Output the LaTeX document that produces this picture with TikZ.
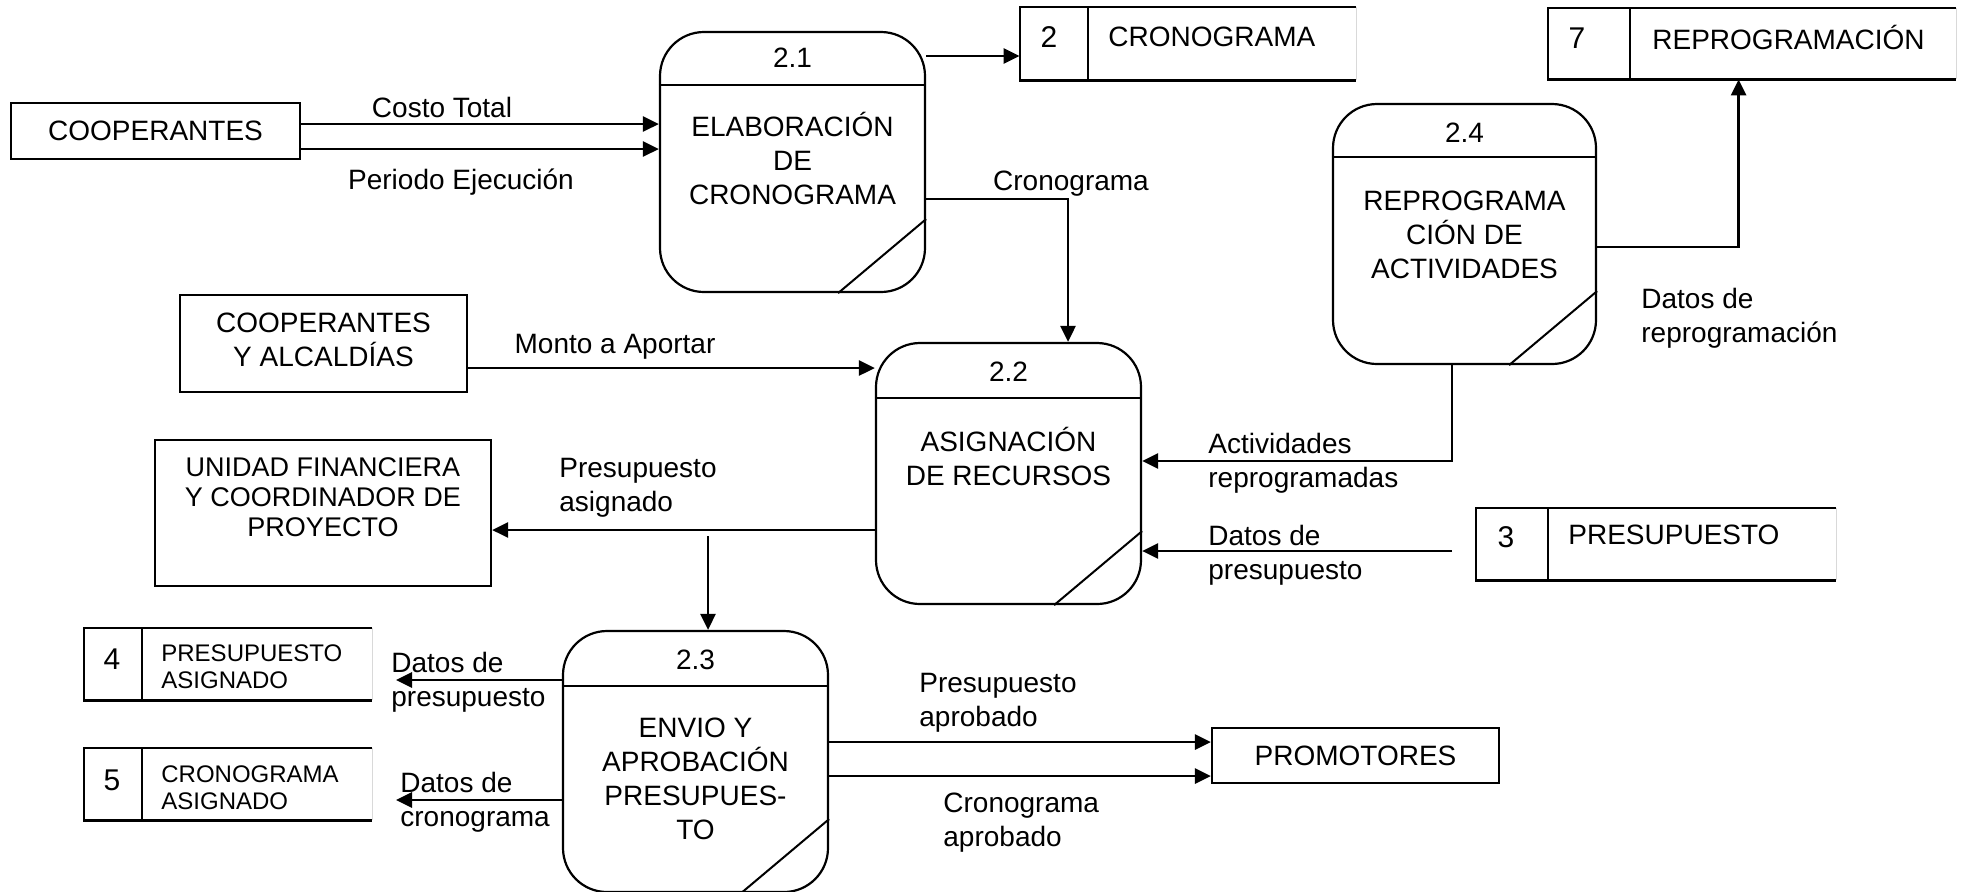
\documentclass[tikz,border=0pt]{standalone}
\usepackage{fontspec}
\setmainfont{Liberation Sans}
\usetikzlibrary{arrows.meta,calc}

% open-ended data store: outline, number compartment divider, faint right edge
\newcommand{\storelines}[2]{%
  \draw[line width=1.1pt] (#1.north east) -- (#1.north west) -- (#1.south west) -- (#1.south east);
  \draw[line width=1.1pt] ($(#1.north west)+(#2,0)$) -- ($(#1.south west)+(#2,0)$);
  \draw[gray!30, line width=0.5pt] (#1.north east) -- (#1.south east);
}
% process bubble: header divider and lower-right corner cut
\newcommand{\proclines}[2]{%
  \draw[line width=1.1pt] ($(#1.north west)+(0,#2)$) -- ($(#1.north east)+(0,#2)$);
  \draw[line width=1pt] ($(#1.south east)+(0,-74)$) -- ($(#1.south east)+(-88,0)$);
}

\begin{document}
\begin{tikzpicture}[x=0.5pt,y=-0.5pt,
  every node/.style={inner sep=0pt, font=\fontsize{14}{17}\selectfont},
  ent/.style={draw, line width=1.1pt},
  proc/.style={draw, line width=1.1pt, rounded corners=22pt, minimum width=132.5pt, minimum height=130pt},
  store/.style={minimum height=36pt},
  arr/.style={line width=1.4pt, -{Triangle[length=8pt,width=7.5pt]}},
  lbl/.style={align=left, anchor=north west},
  ptxt/.style={align=center, anchor=north},
  small/.style={font=\fontsize{12}{13.5}\selectfont},
]
\useasboundingbox (0,0) rectangle (1966,891);

% ---------- external entities ----------
\node[ent, minimum width=144.5pt, minimum height=28pt] (coop) at (155.5,131) {COOPERANTES};
\node[ent, minimum width=143.5pt, minimum height=48.5pt] (coopalc) at (323.5,343.5) {};
\node[align=center] (coopalctxt) at (323.5,340) {COOPERANTES\\Y ALCALDÍAS};
\node[ent, minimum width=168pt, minimum height=73pt] (unidad) at (323,513) {};
\node[align=center, anchor=north, font=\fontsize{13.5}{15}\selectfont] (unidadtxt) at (323,457)
  {UNIDAD FINANCIERA\\Y COORDINADOR DE\\PROYECTO};
\node[ent, minimum width=143.5pt, minimum height=27.5pt] (prom) at (1355.5,755.5) {PROMOTORES};

% ---------- processes ----------
\node[proc] (p21) at (792.5,162) {};
\node (p21num) at (792.5,58) {2.1};
\node[ptxt] (p21txt) at (792.5,112) {ELABORACIÓN\\DE\\CRONOGRAMA};
\proclines{p21}{54}

\node[proc, minimum height=130.5pt] (p22) at (1008.5,473.5) {};
\node (p22num) at (1008.5,372) {2.2};
\node[ptxt] (p22txt) at (1008.5,427) {ASIGNACIÓN\\DE RECURSOS};
\proclines{p22}{56}

\node[proc, minimum height=130.5pt] (p23) at (695.5,761.5) {};
\node (p23num) at (695.5,660) {2.3};
\node[ptxt] (p23txt) at (695.5,718) {ENVIO Y\\APROBACIÓN\\PRESUPUES-\\TO};
\proclines{p23}{56}

\node[proc, minimum width=131.5pt] (p24) at (1464.5,234) {};
\node (p24num) at (1464.5,133) {2.4};
\node[ptxt] (p24txt) at (1464.5,191) {REPROGRAMA\\CIÓN DE\\ACTIVIDADES};
\proclines{p24}{54}

% ---------- data stores ----------
\node[store, minimum width=168pt, minimum height=36.5pt] (s2) at (1188,43.5) {};
\storelines{s2}{68}
\node[font=\fontsize{15}{17}\selectfont] (s2num) at (1049,37) {2};
\node[anchor=west] (s2txt) at (1108,37) {CRONOGRAMA};

\node[store, minimum width=204pt, minimum height=35.5pt] (s7) at (1752,43.5) {};
\storelines{s7}{82}
\node[font=\fontsize{15}{17}\selectfont] (s7num) at (1577,38) {7};
\node[anchor=west] (s7txt) at (1652,37) {REPROGRAMACIÓN};

\node[store, minimum width=180pt] (s3) at (1656,544) {};
\storelines{s3}{72}
\node[font=\fontsize{15}{17}\selectfont] (s3num) at (1506,537) {3};
\node[anchor=west] (s3txt) at (1568,535) {PRESUPUESTO};

\node[store, minimum width=144pt] (s4) at (228,664) {};
\storelines{s4}{58}
\node[font=\fontsize{15}{17}\selectfont] (s4num) at (112,659) {4};
\node[small, align=left, anchor=west] (s4txt) at (161,667) {PRESUPUESTO\\ASIGNADO};

\node[store, minimum width=144pt] (s5) at (228,784) {};
\storelines{s5}{58}
\node[font=\fontsize{15}{17}\selectfont] (s5num) at (112,780) {5};
\node[small, align=left, anchor=west] (s5txt) at (161,788) {CRONOGRAMA\\ASIGNADO};

% ---------- free ends of flows ----------
\coordinate (c23) at (708,536);
\coordinate (c3) at (1452,551);
\coordinate (c4) at (396,680);
\coordinate (c5) at (396,800);

% ---------- flows ----------
\draw[arr] (coop.east |- 0,124) -- (p21.west |- 0,124);
\draw[arr] (coop.east |- 0,149) -- (p21.west |- 0,149);
\node[anchor=base] (lcosto) at (442,117) {Costo Total};
\node[anchor=base] (lperiodo) at (461,189) {Periodo Ejecución};

\draw[arr] (p21.east |- 0,56) -- (s2.west |- 0,56);

\draw[arr] (p21.east |- 0,199) -| ($(p22.north)+(59.5,0)$);
\node[anchor=base] (lcrono) at (1071,190) {Cronograma};

\draw[arr] (coopalc.east |- 0,368) -- (p22.west |- 0,368);
\node[anchor=base] (lmonto) at (615,353) {Monto a Aportar};

\draw[arr] (p22.west |- 0,530) -- (unidad.east |- 0,530);
\node[lbl] (lpasig) at (559,458) {Presupuesto\\asignado};

\draw[arr] (c23) -- (c23 |- p23.north);

\draw[arr] ($(p24.south)+(-12.5,0)$) |- (p22.east |- 0,461);
\node[lbl] (lactiv) at (1208,433) {Actividades\\reprogramadas};

\draw[arr] (c3) -- (p22.east |- c3);
\node[lbl] (ldpres) at (1208,525) {Datos de\\presupuesto};

\draw[arr] (p24.east |- 0,247) -| ($(s7.south west)+(191,0)$);
\node[lbl] (ldrepro) at (1641,288) {Datos de\\reprogramación};

\draw[arr] (p23.west |- c4) -- (c4);
\node[lbl] (ldpres4) at (391,652) {Datos de\\presupuesto};

\draw[arr] (p23.west |- c5) -- (c5);
\node[lbl] (ldcrono5) at (400,772) {Datos de\\cronograma};

\draw[arr] (p23.east |- 0,742) -- (prom.west |- 0,742);
\node[lbl] (lpaprob) at (919,673) {Presupuesto\\aprobado};

\draw[arr] (p23.east |- 0,776) -- (prom.west |- 0,776);
\node[lbl] (lcaprob) at (943,793) {Cronograma\\aprobado};

\end{tikzpicture}
\end{document}
